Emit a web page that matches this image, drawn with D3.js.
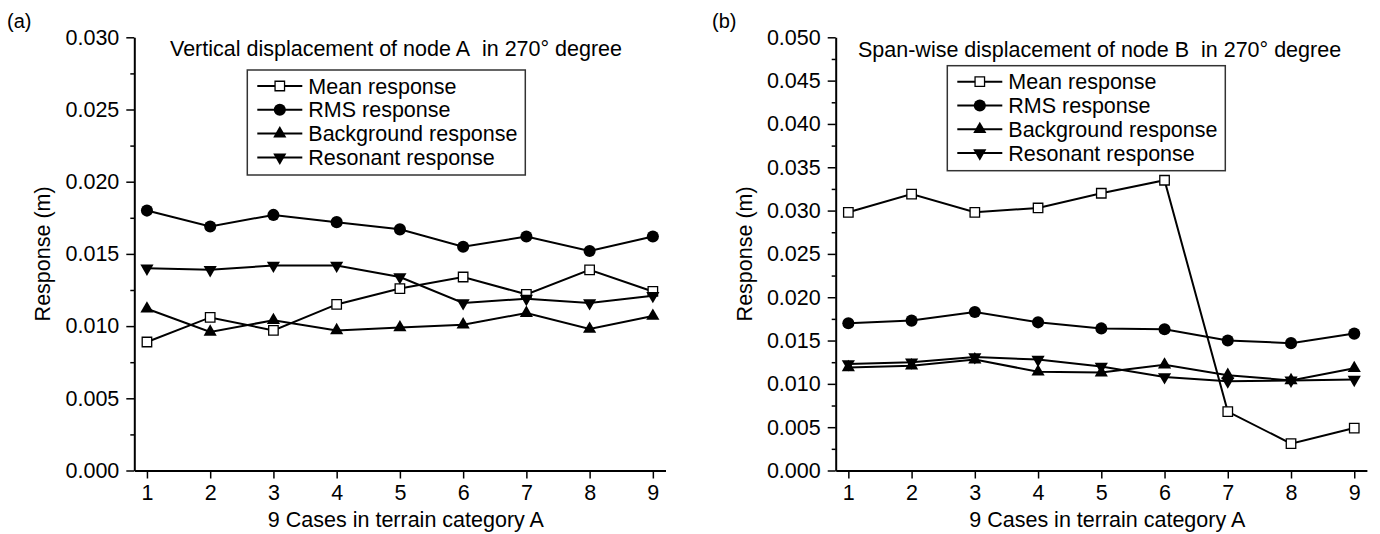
<!DOCTYPE html>
<html>
<head>
<meta charset="utf-8">
<script src="https://cdn.jsdelivr.net/npm/d3@7"></script>
<style>
  html, body { margin: 0; padding: 0; background: #fff; }
  svg { display: block; }
  text { font-family: "Liberation Sans", Arial, Helvetica, sans-serif; fill: #000; }
</style>
</head>
<body>
<svg id="chart" width="1380" height="534"></svg>
<script>
// ---------- data ----------
const cases = [1, 2, 3, 4, 5, 6, 7, 8, 9];
const xTickValues = [1, 2, 3, 4, 5, 6, 7, 8, 9];
const seriesNames = ["Mean response", "RMS response", "Background response", "Resonant response"];

const leftYTicks = [0.000, 0.005, 0.010, 0.015, 0.020, 0.025, 0.030];
const leftMinorTicks = [0.0025, 0.0075, 0.0125, 0.0175, 0.0225, 0.0275];
const leftMean       = [0.0089, 0.0106, 0.0097, 0.0115, 0.0126, 0.0134, 0.0122, 0.0139, 0.0124];
const leftRMS        = [0.0180, 0.0169, 0.0177, 0.0172, 0.0167, 0.0155, 0.0162, 0.0152, 0.0162];
const leftBackground = [0.0112, 0.0096, 0.0104, 0.0097, 0.0099, 0.0101, 0.0109, 0.0098, 0.0107];
const leftResonant   = [0.0140, 0.0139, 0.0142, 0.0142, 0.0134, 0.0116, 0.0119, 0.0116, 0.0121];

const rightYTicks = [0.000, 0.005, 0.010, 0.015, 0.020, 0.025, 0.030, 0.035, 0.040, 0.045, 0.050];
const rightMinorTicks = [0.0025, 0.0075, 0.0125, 0.0175, 0.0225, 0.0275, 0.0325, 0.0375, 0.0425, 0.0475];
const rightMean       = [0.0298, 0.0319, 0.0298, 0.0303, 0.0320, 0.0335, 0.0068, 0.0031, 0.0049];
const rightRMS        = [0.0170, 0.0173, 0.0183, 0.0171, 0.0164, 0.0163, 0.0150, 0.0147, 0.0158];
const rightBackground = [0.0119, 0.0121, 0.0128, 0.0114, 0.0113, 0.0122, 0.0110, 0.0104, 0.0118];
const rightResonant   = [0.0123, 0.0125, 0.0131, 0.0128, 0.0120, 0.0108, 0.0103, 0.0104, 0.0105];

const leftTitle = "Vertical displacement of node A\u00a0\u00a0in 270\u00b0 degree";
const rightTitle = "Span-wise displacement of node B\u00a0\u00a0in 270\u00b0 degree";
const xTitle = "9 Cases in terrain category A";
const yTitle = "Response (m)";

// ---------- drawing ----------
const svg = d3.select("#chart");
const FS = 21.5;

const symbols = [
  { type: d3.symbolSquare,   size: 90,  fill: "#fff", stroke: "#000", sw: 1.3, rot: 0 },
  { type: d3.symbolCircle,   size: 115, fill: "#000", stroke: "none", sw: 0,   rot: 0 },
  { type: d3.symbolTriangle, size: 75,  fill: "#000", stroke: "none", sw: 0,   rot: 0 },
  { type: d3.symbolTriangle, size: 75,  fill: "#000", stroke: "none", sw: 0,   rot: 180 }
];

function drawPanel(cfg) {
  const x = d3.scaleLinear().domain([0.8, 9.2]).range([cfg.x0, cfg.x1]);
  const y = d3.scaleLinear().domain([0, cfg.yMax]).range([cfg.yBottom, cfg.yTop]);
  const g = svg.append("g");

  // panel label
  g.append("text").attr("x", cfg.labelX).attr("y", 27.5)
    .style("font-size", "20px").text(cfg.label);

  // y axis (major)
  const yAxis = g.append("g").attr("transform", `translate(${cfg.x0},0)`)
    .call(d3.axisLeft(y).tickValues(cfg.yTicks).tickSize(8).tickSizeOuter(0)
      .tickPadding(7).tickFormat(d3.format(".3f")));
  yAxis.select(".domain").attr("stroke", "#000").attr("stroke-width", 2);
  yAxis.selectAll(".tick line").attr("stroke", "#000").attr("stroke-width", 1.5);
  yAxis.selectAll(".tick text").style("font-size", FS + "px").style("font-family", "Liberation Sans, Arial, sans-serif").attr("fill", "#000");

  // y axis minor ticks
  const yMinor = g.append("g").attr("transform", `translate(${cfg.x0},0)`)
    .call(d3.axisLeft(y).tickValues(cfg.yMinor).tickSize(4).tickSizeOuter(0).tickFormat(""));
  yMinor.select(".domain").remove();
  yMinor.selectAll(".tick line").attr("stroke", "#000").attr("stroke-width", 1.5);

  // x axis
  const xAxis = g.append("g").attr("transform", `translate(0,${cfg.yBottom})`)
    .call(d3.axisBottom(x).tickValues(xTickValues).tickSize(8).tickSizeOuter(0)
      .tickPadding(6).tickFormat(d3.format("d")));
  xAxis.select(".domain").attr("stroke", "#000").attr("stroke-width", 2);
  xAxis.selectAll(".tick line").attr("stroke", "#000").attr("stroke-width", 1.5);
  xAxis.selectAll(".tick text").style("font-size", FS + "px").style("font-family", "Liberation Sans, Arial, sans-serif").attr("fill", "#000");

  // axis titles
  g.append("text")
    .attr("x", (cfg.x0 + cfg.x1) / 2 + 6).attr("y", 527)
    .attr("text-anchor", "middle").style("font-size", FS + "px").text(xTitle);
  g.append("text")
    .attr("transform", `translate(${cfg.yTitleX},${(cfg.yTop + cfg.yBottom) / 2 + 0}) rotate(-90)`)
    .attr("text-anchor", "middle").style("font-size", FS + "px").text(yTitle);

  // chart title
  g.append("text").attr("x", cfg.titleX).attr("y", cfg.titleY)
    .style("font-size", FS + "px").text(cfg.title);

  // series
  const line = d3.line().x((d, i) => x(cases[i])).y(d => y(d));
  cfg.series.forEach((vals, si) => {
    g.append("path").datum(vals)
      .attr("d", line).attr("fill", "none")
      .attr("stroke", "#000").attr("stroke-width", 2);
  });
  cfg.series.forEach((vals, si) => {
    const s = symbols[si];
    g.selectAll(null).data(vals).enter().append("path")
      .attr("d", d3.symbol().type(s.type).size(s.size))
      .attr("transform", (d, i) => `translate(${x(cases[i])},${y(d)}) rotate(${s.rot})`)
      .attr("fill", s.fill).attr("stroke", s.stroke).attr("stroke-width", s.sw);
  });

  // legend
  const lg = g.append("g");
  lg.append("rect")
    .attr("x", cfg.legX).attr("y", cfg.legY)
    .attr("width", 278).attr("height", 105)
    .attr("fill", "#fff").attr("stroke", "#333").attr("stroke-width", 1.5);
  seriesNames.forEach((name, si) => {
    const cy = cfg.legY + 16 + si * 23.8;
    const lx0 = cfg.legX + 10, lx1 = cfg.legX + 55, mx = cfg.legX + 32.5;
    lg.append("line").attr("x1", lx0).attr("x2", lx1).attr("y1", cy).attr("y2", cy)
      .attr("stroke", "#000").attr("stroke-width", 2);
    const s = symbols[si];
    lg.append("path").attr("d", d3.symbol().type(s.type).size(s.size))
      .attr("transform", `translate(${mx},${cy}) rotate(${s.rot})`)
      .attr("fill", s.fill).attr("stroke", s.stroke).attr("stroke-width", s.sw);
    lg.append("text").attr("x", cfg.legX + 61).attr("y", cy).attr("dy", "0.35em")
      .style("font-size", FS + "px").text(name);
  });
}

drawPanel({
  label: "(a)", labelX: 7,
  x0: 134.3, x1: 665.5, yTop: 37.3, yBottom: 470.5, yMax: 0.030,
  yTicks: leftYTicks, yMinor: leftMinorTicks,
  yTitleX: 50, title: leftTitle, titleX: 170, titleY: 55.7,
  legX: 247.3, legY: 70,
  series: [leftMean, leftRMS, leftBackground, leftResonant]
});

drawPanel({
  label: "(b)", labelX: 712,
  x0: 835.7, x1: 1366.9, yTop: 37.3, yBottom: 470.5, yMax: 0.050,
  yTicks: rightYTicks, yMinor: rightMinorTicks,
  yTitleX: 752, title: rightTitle, titleX: 858, titleY: 57,
  legX: 947.3, legY: 65.7,
  series: [rightMean, rightRMS, rightBackground, rightResonant]
});
</script>
</body>
</html>
